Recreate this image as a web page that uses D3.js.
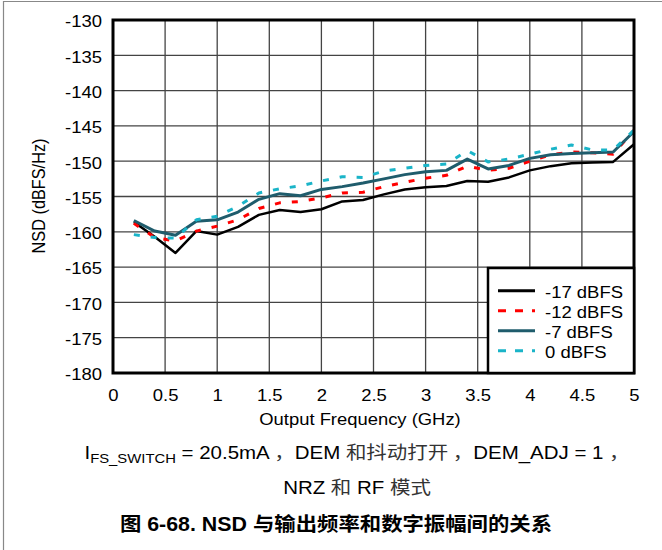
<!DOCTYPE html>
<html>
<head>
<meta charset="utf-8">
<script src="https://cdn.jsdelivr.net/npm/d3@7"></script>
<style>
  html, body { margin: 0; padding: 0; background: #fff; }
  svg { display: block; }
  text { font-family: "Liberation Sans", Arial, "Noto Sans CJK SC", sans-serif; fill: #000; }
</style>
</head>
<body>
<svg id="chart" width="662" height="550"></svg>
<script>
// ---- data ----
const freqs = [0.2,0.4,0.6,0.8,1.0,1.2,1.4,1.6,1.8,2.0,2.2,2.4,2.6,2.8,3.0,3.2,3.4,3.6,3.8,4.0,4.2,4.4,4.6,4.8,5.0];
const seriesNames = ["-17 dBFS", "-12 dBFS", "-7 dBFS", "0 dBFS"];
const nsdM17 = [-158.6,-160.7,-163.0,-159.9,-160.4,-159.3,-157.6,-156.9,-157.2,-156.8,-155.7,-155.5,-154.7,-154.0,-153.7,-153.5,-152.8,-152.9,-152.3,-151.3,-150.7,-150.3,-150.2,-150.1,-147.6];
const nsdM12 = [-158.8,-160.8,-161.3,-159.9,-159.2,-158.3,-156.7,-155.9,-155.7,-155.2,-154.5,-154.4,-153.6,-153.0,-152.4,-152.0,-150.7,-151.3,-151.0,-150.0,-149.1,-148.7,-148.8,-149.0,-145.6];
const nsdM7  = [-158.4,-159.9,-160.5,-158.5,-158.3,-157.2,-155.4,-154.6,-154.9,-154.0,-153.6,-153.1,-152.5,-151.9,-151.5,-151.3,-149.7,-151.1,-150.6,-149.6,-149.1,-148.9,-148.8,-148.7,-145.8];
const nsd0   = [-160.4,-160.8,-160.9,-158.3,-157.8,-156.4,-154.5,-153.9,-153.5,-152.8,-152.2,-152.3,-151.4,-151.0,-150.6,-150.4,-148.5,-150.1,-149.7,-149.0,-148.3,-147.7,-148.4,-148.4,-145.6];
const xTicks = [0,0.5,1,1.5,2,2.5,3,3.5,4,4.5,5];
const yTicks = [-130,-135,-140,-145,-150,-155,-160,-165,-170,-175,-180];
const xLabel = "Output Frequency (GHz)";
const yLabel = "NSD (dBFS/Hz)";
const caption3 = "图 6-68. NSD 与输出频率和数字振幅间的关系";

// ---- styles ----
const styles = [
  {color: "#000000", dash: null, width: 2.5},
  {color: "#ff0000", dash: "6,11", width: 3},
  {color: "#1f5c6c", dash: null, width: 3},
  {color: "#1ab4c8", dash: "6,11", width: 3}
];
const seriesValues = [nsdM17, nsdM12, nsdM7, nsd0];

const svg = d3.select("#chart");
const SX = 1.1; // horizontal text stretch
const FS = 16.8;
const CJK = "'Noto Sans CJK SC'";

function addText(parent, x, y, str, opts = {}) {
  const g = parent.append("g").attr("transform", `translate(${x},${y}) scale(${opts.sx || SX},1)${opts.rotate ? " rotate(" + opts.rotate + ")" : ""}`);
  const t = g.append("text")
    .attr("text-anchor", opts.anchor || "middle")
    .attr("dy", opts.dy || "0.35em")
    .style("font-size", (opts.size || FS) + "px");
  if (opts.weight) t.style("font-weight", opts.weight);
  if (opts.family) t.style("font-family", opts.family);
  t.text(str);
  return t;
}

// outer frame (left & top)
svg.append("line").attr("x1", 3.5).attr("x2", 3.5).attr("y1", 1).attr("y2", 550).attr("stroke", "#888").attr("stroke-width", 1.2);
svg.append("line").attr("x1", 3).attr("x2", 662).attr("y1", 1.5).attr("y2", 1.5).attr("stroke", "#888").attr("stroke-width", 1.2);

const L = 113, R = 634, T = 20, B = 373;
const x = d3.scaleLinear().domain([0, 5]).range([L, R]);
const y = d3.scaleLinear().domain([-180, -130]).range([B, T]);

// gridlines
const grid = svg.append("g");
grid.selectAll("line.v").data(xTicks.slice(1, -1)).join("line")
  .attr("x1", d => x(d)).attr("x2", d => x(d)).attr("y1", T).attr("y2", B)
  .attr("stroke", "#444").attr("stroke-width", 1.3);
grid.selectAll("line.h").data(yTicks.slice(1, -1)).join("line")
  .attr("x1", L).attr("x2", R).attr("y1", d => y(d)).attr("y2", d => y(d))
  .attr("stroke", "#444").attr("stroke-width", 1.3);

// axis labels via d3 axes (tick labels only)
const xAxis = svg.append("g").attr("transform", `translate(0,${B})`)
  .call(d3.axisBottom(x).tickValues(xTicks).tickSize(0).tickPadding(0).tickFormat(d3.format("")));
xAxis.select(".domain").remove();
xAxis.selectAll(".tick text").remove();
xAxis.selectAll(".tick").each(function(d) {
  addText(d3.select(this), 0, 22, String(d));
});
const yAxis = svg.append("g").attr("transform", `translate(${L},0)`)
  .call(d3.axisLeft(y).tickValues(yTicks).tickSize(0).tickPadding(0));
yAxis.select(".domain").remove();
yAxis.selectAll(".tick text").remove();
yAxis.selectAll(".tick").each(function(d) {
  addText(d3.select(this), -11, 1, String(d), {anchor: "end"});
});

// series lines
const line = d3.line().x((d, i) => x(freqs[i])).y(d => y(d));
const plot = svg.append("g");
seriesValues.forEach((vals, k) => {
  const p = plot.append("path").datum(vals).attr("d", line)
    .attr("fill", "none").attr("stroke", styles[k].color)
    .attr("stroke-width", styles[k].width).attr("stroke-linejoin", "round");
  if (styles[k].dash) p.attr("stroke-dasharray", styles[k].dash);
});

// plot frame
svg.append("rect").attr("x", L).attr("y", T).attr("width", R - L).attr("height", B - T)
  .attr("fill", "none").attr("stroke", "#000").attr("stroke-width", 3);

// legend
const leg = svg.append("g");
leg.append("rect").attr("x", 488).attr("y", 268).attr("width", R - 488).attr("height", B - 268)
  .attr("fill", "#fff").attr("stroke", "#000").attr("stroke-width", 2.5);
seriesNames.forEach((name, k) => {
  const yy = 290.7 + k * 20;
  const l = leg.append("line").attr("x1", 498).attr("x2", 535).attr("y1", yy).attr("y2", yy)
    .attr("stroke", styles[k].color).attr("stroke-width", 3);
  if (styles[k].dash) l.attr("stroke-dasharray", "8,9");
  addText(leg, 545, yy + 1, name, {anchor: "start"});
});

// axis titles
addText(svg, 360, 419, xLabel, {size: 16.3, sx: 1.13});
addText(svg, 39, 196, yLabel, {rotate: -90, size: 16.3, sx: 1.13});

// caption line 1 with subscript
const CFS = 18.6;
{
  const g = svg.append("g").attr("transform", `translate(357,452) scale(${SX},1)`);
  const t = g.append("text").attr("text-anchor", "middle").attr("dy", "0.35em").style("font-size", CFS + "px");
  t.append("tspan").text("I");
  t.append("tspan").attr("dy", 4).style("font-size", "13.5px").text("FS_SWITCH");
  t.append("tspan").attr("dy", -4).text(" = 20.5mA ");
  t.append("tspan").style("font-family", CJK).style("fill", "#333").text("，");
  t.append("tspan").text("DEM ");
  t.append("tspan").style("font-family", CJK).style("fill", "#333").text("和抖动打开 ");
  t.append("tspan").style("font-family", CJK).style("fill", "#333").text("，");
  t.append("tspan").text("DEM_ADJ = 1 ");
  t.append("tspan").style("font-family", CJK).style("fill", "#333").text("，");
}
{
  const g = svg.append("g").attr("transform", `translate(357,487) scale(${SX},1)`);
  const t = g.append("text").attr("text-anchor", "middle").attr("dy", "0.35em").style("font-size", CFS + "px");
  t.append("tspan").text("NRZ ");
  t.append("tspan").style("font-family", CJK).style("fill", "#333").text("和");
  t.append("tspan").text(" RF ");
  t.append("tspan").style("font-family", CJK).style("fill", "#333").text("模式");
}
addText(svg, 336, 524, caption3, {weight: "bold", size: 19.8, sx: 1.08, family: "'Liberation Sans', 'Noto Sans CJK SC', sans-serif"});
</script>
</body>
</html>
